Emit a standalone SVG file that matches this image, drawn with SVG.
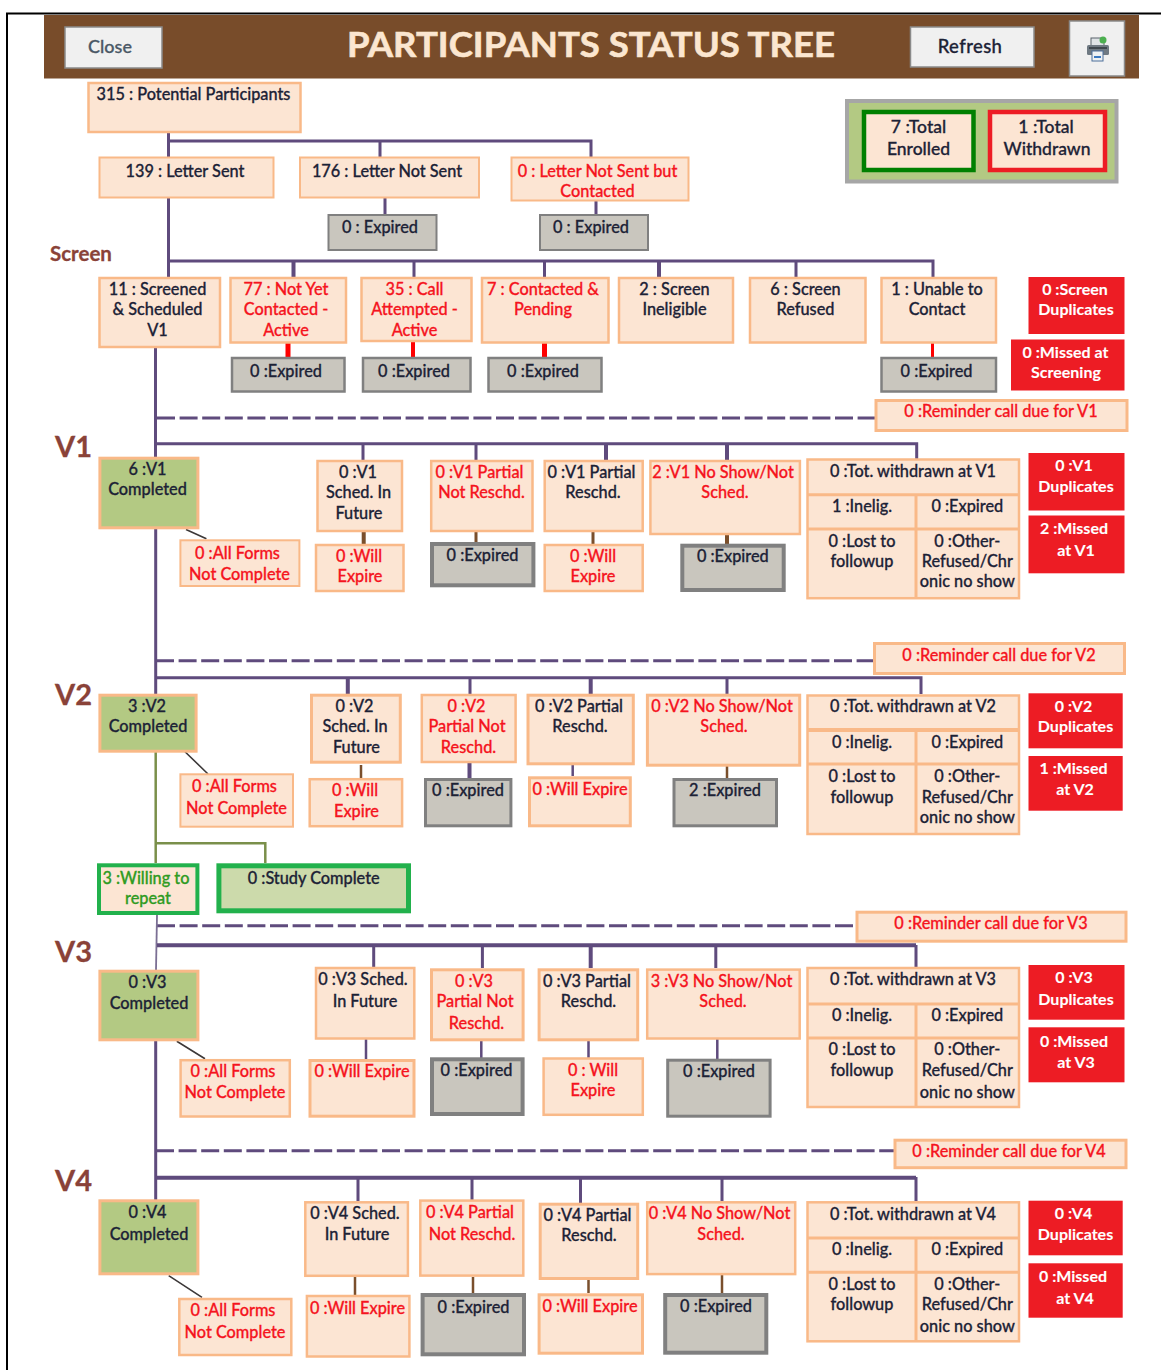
<svg xmlns="http://www.w3.org/2000/svg" width="1161" height="1370" viewBox="0 0 1161 1370">
<style>
text{font-family:Lato,"Liberation Sans",sans-serif;font-size:16.3px;text-anchor:middle;fill:#1c2236;stroke:#1c2236;stroke-width:.3;font-weight:500}
.r text{fill:#f5141e;stroke:#f5141e}
.w text{fill:#fff;stroke:#fff;stroke-width:.1;font-weight:700;font-size:16px}
.g text{fill:#2f9b22;stroke:#2f9b22}
.n{fill:#fce5d3;stroke:#f9b988;stroke-width:2.5}
.x{fill:#c9c6be;stroke:#808080;stroke-width:2.5}
.k{fill:#c9c6be;stroke:#808080;stroke-width:4}
.c{fill:#b3c983;stroke:#f9b988;stroke-width:3}
.d{fill:#ed1c24}
.b{fill:#f0f0f0;stroke:#8a8a8a;stroke-width:1.5}
text.h{font-weight:700;font-size:29px;fill:#8a4238;stroke:#8a4238;text-anchor:start}
.p{fill:none;stroke:#5f4b7d;stroke-width:3}
.pd{fill:none;stroke:#5f4b7d;stroke-width:3;stroke-dasharray:18 4.6}
.br{fill:none;stroke:#7a4f2c;stroke-width:3}
.rd{fill:none;stroke:#ff0000;stroke-width:4}
.ol{fill:none;stroke:#7a8f4a;stroke-width:2.5}
.dg{fill:none;stroke:#3c3838;stroke-width:1.6}
.l{fill:none;stroke:#f9b988;stroke-width:3}
</style>
<path d="M7 1370V13.5H1161" fill="none" stroke="#000" stroke-width="2"/>
<g id="header">
<rect x="44" y="15" width="1095" height="63.5" fill="#784c2a"/>
<text x="591" y="57" style="font-size:35px;font-weight:700;fill:#fbe6d0;stroke:#fbe6d0;stroke-width:.6" textLength="488" lengthAdjust="spacingAndGlyphs">PARTICIPANTS STATUS TREE</text>
</g>
<g id="btn-close"><rect class="b" x="65" y="27" width="97" height="41"/><text x="110" y="53" style="fill:#4a5866;stroke:#4a5866;font-size:18px">Close</text></g>
<g id="btn-refresh"><rect class="b" x="910.500" y="27" width="123.500" height="40"/><text x="970" y="53" style="font-size:18.500px;letter-spacing:.4px">Refresh</text></g>
<g id="btn-print"><rect class="b" x="1069.500" y="21" width="55" height="55"/>
<rect x="1091" y="38" width="13" height="8" fill="#dfe3e6" stroke="#59626a"/><rect x="1087" y="45" width="22" height="10" rx="1.500" fill="#6f7982"/><rect x="1089" y="47" width="18" height="2" fill="#3f474e"/><rect x="1092" y="51" width="11" height="10" fill="#eef1f3" stroke="#4d6f9a"/><rect x="1094" y="56" width="7" height="2" fill="#3a78c0"/><circle cx="1103" cy="40" r="3.500" fill="#4caf50"/></g>

<g id="connectors">
<path class="p" d="M168.500 128V157M168.500 198V278M168.500 141H591V157M380 141V157M385 198V215M596 197V215M168.500 261H933V278M414 261V278M544.500 261V278M796 261V278"/>
<path class="p" style="stroke-width:4" d="M293.500 261V278M659 261V278"/>
<path class="rd" style="stroke-width:5" d="M288 341V357M544.500 341V357"/><path class="rd" d="M413 341V357"/><path class="rd" style="stroke-width:3" d="M932.500 341V357"/>
<path class="p" d="M155.500 348V458M155.700 525V703M155.700 1038V1200"/>
<path class="pd" d="M157 418H875M156 660.700H874M157 925.700H856M156 1150.700H894"/>
<path class="p" d="M155.700 443.700H916.700V460M363 443.700V460M476 443.700V460"/>
<path class="p" style="stroke-width:4" d="M606 443.700V460M727 443.700V460"/>
<path class="br" style="stroke-width:4" d="M363.700 531V544M727 535V544"/><path class="br" d="M476 531V547M593 531V544"/>
<path class="p" d="M155.700 677.700H921V694M470 677.700V694M727 677.700V694"/>
<path class="p" style="stroke-width:4" d="M347.800 677.700V694M590.700 677.700V694M469.500 763V778"/><path class="p" style="stroke-width:2.500" d="M572.700 765V776"/>
<path class="br" style="stroke-width:2.500" d="M361 765V778M727 766V778"/>
<path class="ol" d="M155.700 745V863M155.700 843.300H265.300V863"/>
<path class="p" style="stroke-width:1.800;stroke:#7b6f94" d="M157 915L156 970"/>
<path class="p" style="stroke-width:4" d="M157 945.300H916"/>
<path class="p" d="M373.700 945V968M482.400 945V968M715.800 945V968M916 945V968"/><path class="p" style="stroke-width:4" d="M590.700 945V968"/>
<path class="p" style="stroke-width:2.500" d="M366 1039V1059M481.300 1041V1058M588.500 1041V1058M717.300 1039V1059"/>
<path class="p" style="stroke-width:4" d="M155.700 1177.700H916"/>
<path class="p" d="M358 1177V1201M472 1177V1201M580.500 1177V1203M722 1177V1201M916 1177V1201"/>
<path class="br" style="stroke-width:2.500" d="M355 1277V1295M473 1277V1293M588.500 1280V1293M722 1272V1293"/>
<path class="dg" d="M186 529.500L206.400 538.700M185 751.700L208 774M176.800 1041.300L205 1058.700M168.700 1275.700L202 1297.300"/>
</g>

<g id="legend">
<rect x="847" y="101" width="269.500" height="80.500" fill="#b3c983" stroke="#a6a6a6" stroke-width="4"/>
<g id="total-enrolled"><rect x="864" y="112" width="109.500" height="58" fill="#fce5d3" stroke="#008000" stroke-width="4.500"/><text x="918.500" y="133" style="font-size:17.500px">7 :Total</text><text x="918.500" y="155" style="font-size:17.500px">Enrolled</text></g>
<g id="total-withdrawn"><rect x="990" y="112" width="115" height="58" fill="#fce5d3" stroke="#ed1c24" stroke-width="4.500"/><text x="1046" y="133" style="font-size:17.500px">1 :Total</text><text x="1047" y="155" style="font-size:17.500px">Withdrawn</text></g>
</g>

<text class="h" x="50" y="261" style="font-size:20.500px">Screen</text>
<text class="h" x="55" y="457">V1</text><text class="h" x="55" y="705">V2</text><text class="h" x="55" y="962">V3</text><text class="h" x="55" y="1190.500">V4</text>

<g id="n315"><rect class="n" x="88.500" y="83" width="212" height="49"/><text x="193.500" y="100">315 : Potential Participants</text></g>
<g id="n139"><rect class="n" style="stroke-width:2" x="99.500" y="157.500" width="174" height="40"/><text x="185" y="177">139 : Letter Sent</text></g>
<g id="n176"><rect class="n" style="stroke-width:2" x="300" y="157.500" width="179" height="40"/><text x="387" y="177">176 : Letter Not Sent</text></g>
<g id="n0lns" class="r"><rect class="n" style="stroke-width:2" x="511.500" y="157.500" width="177" height="43"/><text x="597.500" y="177">0 : Letter Not Sent but</text><text x="597.500" y="197">Contacted</text></g>
<g id="exp1"><rect class="x" style="stroke-width:2" x="328.500" y="215" width="108" height="35"/><text x="380" y="233">0 : Expired</text></g>
<g id="exp2"><rect class="x" style="stroke-width:2" x="540" y="215" width="108" height="35"/><text x="591" y="233">0 : Expired</text></g>

<g id="screened"><rect class="n" x="99.500" y="278" width="120.500" height="69"/><text x="157.500" y="295">11 : Screened</text><text x="157.500" y="315">&amp; Scheduled</text><text x="157.500" y="336">V1</text></g>
<g id="notyet" class="r"><rect class="n" x="230.500" y="278" width="115.500" height="64.500"/><text x="286" y="295">77 : Not Yet</text><text x="286" y="315">Contacted -</text><text x="286" y="336">Active</text></g>
<g id="attempted" class="r"><rect class="n" x="361.500" y="278" width="110" height="63"/><text x="414.500" y="295">35 : Call</text><text x="414.500" y="315">Attempted -</text><text x="414.500" y="336">Active</text></g>
<g id="pending" class="r"><rect class="n" x="482" y="278" width="126.500" height="64.500"/><text x="543" y="295">7 : Contacted &amp;</text><text x="543" y="315">Pending</text></g>
<g id="inelig"><rect class="n" x="619" y="278" width="114" height="64.500"/><text x="674.500" y="295">2 : Screen</text><text x="674.500" y="315">Ineligible</text></g>
<g id="refused"><rect class="n" x="750" y="278" width="115.500" height="64.500"/><text x="805.500" y="295">6 : Screen</text><text x="805.500" y="315">Refused</text></g>
<g id="unable"><rect class="n" x="881.500" y="278" width="114.500" height="64.500"/><text x="937" y="295">1 : Unable to</text><text x="937" y="315">Contact</text></g>
<g id="scrdup" class="w"><rect class="d" x="1028.500" y="277" width="96" height="57"/><text x="1075" y="295">0 :Screen</text><text x="1076" y="315">Duplicates</text></g>
<g id="scrmiss" class="w"><rect class="d" x="1011" y="339.500" width="113.500" height="51"/><text x="1065.500" y="358">0 :Missed at</text><text x="1066" y="378">Screening</text></g>
<g id="e3"><rect class="x" x="232" y="358" width="112.500" height="33.500"/><text x="286" y="376.500">0 :Expired</text></g>
<g id="e4"><rect class="x" x="363" y="358" width="107.500" height="33.500"/><text x="414" y="376.500">0 :Expired</text></g>
<g id="e5"><rect class="x" x="488.500" y="358" width="113" height="33.500"/><text x="543" y="376.500">0 :Expired</text></g>
<g id="e6"><rect class="x" x="881.500" y="358" width="114.500" height="33.500"/><text x="936.500" y="376.500">0 :Expired</text></g>
<g id="rem1" class="r"><rect class="n" style="stroke-width:3" x="876" y="400.500" width="251" height="30"/><text x="1001" y="417">0 :Reminder call due for V1</text></g>

<g id="v1c"><rect class="c" x="99.900" y="458.200" width="98" height="69.600"/><text x="147.500" y="474.700">6 :V1</text><text x="147.500" y="495">Completed</text></g>
<g id="v1af" class="r"><rect class="n" style="stroke-width:2" x="180.400" y="540.300" width="119" height="45.700"/><text x="237.500" y="559">0 :All Forms</text><text x="239.500" y="579.500">Not Complete</text></g>
<g id="v1s"><rect class="n" x="317.500" y="461" width="84.500" height="70"/><text x="358" y="477.700">0 :V1</text><text x="358.500" y="498">Sched. In</text><text x="359" y="518.700">Future</text></g>
<g id="v1w" class="r"><rect class="n" x="316" y="545" width="87.500" height="46"/><text x="359" y="562">0 :Will</text><text x="360" y="582">Expire</text></g>
<g id="v1p" class="r"><rect class="n" x="431.200" y="461" width="101.300" height="70"/><text x="479.500" y="477.700">0 :V1 Partial</text><text x="481.500" y="498">Not Reschd.</text></g>
<g id="v1pe"><rect class="k" x="432" y="544" width="101.400" height="41.300"/><text x="482.500" y="560.700">0 :Expired</text></g>
<g id="v1r"><rect class="n" x="544.700" y="461" width="98" height="70"/><text x="591.500" y="477.700">0 :V1 Partial</text><text x="593" y="498">Reschd.</text></g>
<g id="v1rw" class="r"><rect class="n" x="544.700" y="545" width="98" height="46"/><text x="593" y="562">0 :Will</text><text x="593" y="582">Expire</text></g>
<g id="v1n" class="r"><rect class="n" x="650.400" y="461" width="149.500" height="73"/><text x="723" y="477.700">2 :V1 No Show/Not</text><text x="725" y="498">Sched.</text></g>
<g id="v1ne"><rect class="k" x="682.300" y="545.700" width="101.400" height="44.300"/><text x="732.800" y="562">0 :Expired</text></g>
<g id="v1t"><rect class="n" x="807.500" y="459.500" width="211.500" height="138.700"/><path class="l" d="M807 494.700H1019M807 529H1019M916 494.700V598"/><text x="913" y="476.700">0 :Tot. withdrawn at V1</text><text x="862" y="512.300">1 :Inelig.</text><text x="967.300" y="512.300">0 :Expired</text><text x="862" y="546.700">0 :Lost to</text><text x="862" y="567">followup</text><text x="967.300" y="546.700">0 :Other-</text><text x="967.300" y="567">Refused/Chr</text><text x="967.300" y="587.300">onic no show</text></g>
<g id="v1d" class="w"><rect class="d" x="1028.500" y="453" width="96" height="57.500"/><text x="1074" y="471.300">0 :V1</text><text x="1076" y="492">Duplicates</text></g>
<g id="v1m" class="w"><rect class="d" x="1028.500" y="515.500" width="96" height="57.800"/><text x="1074" y="534">2 :Missed</text><text x="1076" y="556">at V1</text></g>

<g id="rem2" class="r"><rect class="n" style="stroke-width:3" x="874.500" y="643.500" width="250" height="30"/><text x="999" y="660.700">0 :Reminder call due for V2</text></g>
<g id="v2c"><rect class="c" x="99.900" y="695.200" width="96.200" height="56"/><text x="147" y="711.700">3 :V2</text><text x="148" y="732">Completed</text></g>
<g id="v2af" class="r"><rect class="n" style="stroke-width:2" x="180.400" y="774.300" width="112.600" height="52.400"/><text x="234.500" y="791.700">0 :All Forms</text><text x="236.500" y="813.700">Not Complete</text></g>
<g id="v2s"><rect class="n" style="stroke-width:3" x="311.500" y="695.200" width="88.800" height="67"/><text x="354.500" y="711.700">0 :V2</text><text x="355" y="732.300">Sched. In</text><text x="356.500" y="752.700">Future</text></g>
<g id="v2w" class="r"><rect class="n" x="309.700" y="779.200" width="92.400" height="47"/><text x="355" y="796.300">0 :Will</text><text x="356.500" y="816.700">Expire</text></g>
<g id="v2p" class="r"><rect class="n" x="421.800" y="695" width="93.800" height="67"/><text x="466.500" y="711.700">0 :V2</text><text x="467" y="732.300">Partial Not</text><text x="468.500" y="752.700">Reschd.</text></g>
<g id="v2pe"><rect class="x" style="stroke-width:3" x="425.500" y="779.500" width="85.400" height="46.300"/><text x="468" y="796.300">0 :Expired</text></g>
<g id="v2r"><rect class="n" style="stroke-width:3" x="528" y="695.200" width="105.300" height="68.600"/><text x="579" y="711.700">0 :V2 Partial</text><text x="580" y="732.300">Reschd.</text></g>
<g id="v2rw" class="r"><rect class="n" style="stroke-width:3" x="529.500" y="777.800" width="100.800" height="48"/><text x="580" y="794.700">0 :Will Expire</text></g>
<g id="v2n" class="r"><rect class="n" style="stroke-width:3" x="647.400" y="695.200" width="152.300" height="70"/><text x="722" y="711.700">0 :V2 No Show/Not</text><text x="724" y="732">Sched.</text></g>
<g id="v2ne"><rect class="x" style="stroke-width:3" x="674" y="779.500" width="102.500" height="46.300"/><text x="725" y="796.300">2 :Expired</text></g>
<g id="v2t"><rect class="n" x="807.500" y="695.500" width="211.500" height="138.500"/><path class="l" style="stroke-width:4" d="M807 730H1019"/><path class="l" d="M807 764H1019M916 730V834"/><text x="913" y="712">0 :Tot. withdrawn at V2</text><text x="862" y="747.700">0 :Inelig.</text><text x="967.300" y="747.700">0 :Expired</text><text x="862" y="782.300">0 :Lost to</text><text x="862" y="802.700">followup</text><text x="967.300" y="782.300">0 :Other-</text><text x="967.300" y="802.700">Refused/Chr</text><text x="967.300" y="823.300">onic no show</text></g>
<g id="v2d" class="w"><rect class="d" x="1028.500" y="693.300" width="94.200" height="55"/><text x="1073.500" y="712">0 :V2</text><text x="1075.500" y="732.300">Duplicates</text></g>
<g id="v2m" class="w"><rect class="d" x="1028.500" y="756" width="94.200" height="54.700"/><text x="1073.500" y="774.300">1 :Missed</text><text x="1075" y="795">at V2</text></g>

<g id="willing" class="g"><rect style="fill:#fce5d3;stroke:#22b14c;stroke-width:4" x="99" y="865.300" width="98.400" height="47.700"/><text x="146" y="884">3 :Willing to</text><text x="148" y="904">repeat</text></g>
<g id="study"><rect style="fill:#ccdaab;stroke:#22b14c;stroke-width:5" x="218.900" y="865.800" width="189.600" height="45"/><text x="313.700" y="884">0 :Study Complete</text></g>

<g id="rem3" class="r"><rect class="n" style="stroke-width:3" x="857" y="912.200" width="269" height="29"/><text x="991" y="929">0 :Reminder call due for V3</text></g>
<g id="v3c"><rect class="c" x="99.900" y="971.200" width="98" height="68.600"/><text x="147.500" y="988">0 :V3</text><text x="149" y="1008.700">Completed</text></g>
<g id="v3af" class="r"><rect class="n" x="180.600" y="1060.200" width="109.200" height="56.300"/><text x="233" y="1077.300">0 :All Forms</text><text x="235" y="1097.700">Not Complete</text></g>
<g id="v3s"><rect class="n" x="316" y="968" width="98.300" height="70.500"/><text x="363" y="985">0 :V3 Sched.</text><text x="365" y="1007">In Future</text></g>
<g id="v3w" class="r"><rect class="n" style="stroke-width:3" x="310" y="1060.500" width="104" height="55.700"/><text x="362" y="1077.300">0 :Will Expire</text></g>
<g id="v3p" class="r"><rect class="n" style="stroke-width:3" x="431.500" y="969.800" width="91.600" height="70"/><text x="474" y="986.700">0 :V3</text><text x="475" y="1007">Partial Not</text><text x="476.500" y="1029">Reschd.</text></g>
<g id="v3pe"><rect class="k" x="432" y="1059.300" width="90.600" height="54.700"/><text x="476.500" y="1075.700">0 :Expired</text></g>
<g id="v3r"><rect class="n" style="stroke-width:3" x="539.100" y="969.800" width="98.600" height="70"/><text x="587" y="986.700">0 :V3 Partial</text><text x="588.500" y="1007">Reschd.</text></g>
<g id="v3rw" class="r"><rect class="n" x="543.600" y="1058.500" width="99.200" height="56.300"/><text x="593" y="1075.700">0 : Will</text><text x="593" y="1096">Expire</text></g>
<g id="v3n" class="r"><rect class="n" x="647.200" y="969.600" width="152.500" height="68.900"/><text x="721.500" y="986.700">3 :V3 No Show/Not</text><text x="723" y="1007">Sched.</text></g>
<g id="v3ne"><rect class="x" style="stroke-width:3" x="667.700" y="1060.200" width="102.400" height="56"/><text x="719" y="1077.300">0 :Expired</text></g>
<g id="v3t"><rect class="n" x="807.500" y="968" width="211.500" height="139"/><path class="l" d="M807 1004H1019M807 1038H1019M916 1004V1107"/><text x="913" y="985.300">0 :Tot. withdrawn at V3</text><text x="862" y="1021">0 :Inelig.</text><text x="967.300" y="1021">0 :Expired</text><text x="862" y="1055.300">0 :Lost to</text><text x="862" y="1076">followup</text><text x="967.300" y="1055.300">0 :Other-</text><text x="967.300" y="1076">Refused/Chr</text><text x="967.300" y="1097.700">onic no show</text></g>
<g id="v3d" class="w"><rect class="d" x="1028.500" y="965" width="96" height="54.700"/><text x="1074" y="983.300">0 :V3</text><text x="1076" y="1005.300">Duplicates</text></g>
<g id="v3m" class="w"><rect class="d" x="1028.500" y="1027.300" width="96" height="55"/><text x="1074" y="1047.300">0 :Missed</text><text x="1076" y="1068">at V3</text></g>

<g id="rem4" class="r"><rect class="n" style="stroke-width:3" x="895" y="1140.200" width="231" height="27.500"/><text x="1009" y="1157">0 :Reminder call due for V4</text></g>
<g id="v4c"><rect class="c" x="99.900" y="1200.800" width="98" height="73"/><text x="147.500" y="1217.700">0 :V4</text><text x="149" y="1239.700">Completed</text></g>
<g id="v4af" class="r"><rect class="n" x="179.300" y="1299" width="112" height="56"/><text x="233" y="1316">0 :All Forms</text><text x="235" y="1338">Not Complete</text></g>
<g id="v4s"><rect class="n" x="305.300" y="1202.300" width="102.600" height="73.500"/><text x="355" y="1219.300">0 :V4 Sched.</text><text x="357" y="1239.700">In Future</text></g>
<g id="v4w" class="r"><rect class="n" x="306.900" y="1296" width="102.500" height="60.500"/><text x="357.500" y="1314.300">0 :Will Expire</text></g>
<g id="v4p" class="r"><rect class="n" x="420.300" y="1200.600" width="103" height="75"/><text x="470" y="1217.700">0 :V4 Partial</text><text x="472" y="1239.700">Not Reschd.</text></g>
<g id="v4pe"><rect class="k" x="422.600" y="1295" width="101.400" height="59.300"/><text x="473.500" y="1312.700">0 :Expired</text></g>
<g id="v4r"><rect class="n" style="stroke-width:3" x="540.200" y="1204.200" width="97.500" height="74.300"/><text x="587.500" y="1220.700">0 :V4 Partial</text><text x="589" y="1241">Reschd.</text></g>
<g id="v4rw" class="r"><rect class="n" style="stroke-width:3" x="539.100" y="1294.800" width="103.400" height="58.400"/><text x="590" y="1311.700">0 :Will Expire</text></g>
<g id="v4n" class="r"><rect class="n" x="647.200" y="1202.300" width="148" height="71.800"/><text x="719.500" y="1219.300">0 :V4 No Show/Not</text><text x="721" y="1239.700">Sched.</text></g>
<g id="v4ne"><rect class="k" x="665.200" y="1295" width="101.100" height="57.700"/><text x="716" y="1311.700">0 :Expired</text></g>
<g id="v4t"><rect class="n" x="807.500" y="1202.300" width="211.500" height="139"/><path class="l" d="M807 1238H1019M807 1272.300H1019M916 1238V1342"/><text x="913" y="1219.700">0 :Tot. withdrawn at V4</text><text x="862" y="1255.300">0 :Inelig.</text><text x="967.300" y="1255.300">0 :Expired</text><text x="862" y="1289.700">0 :Lost to</text><text x="862" y="1310">followup</text><text x="967.300" y="1289.700">0 :Other-</text><text x="967.300" y="1310">Refused/Chr</text><text x="967.300" y="1331.700">onic no show</text></g>
<g id="v4d" class="w"><rect class="d" x="1028.500" y="1200.700" width="94.200" height="54.600"/><text x="1073.500" y="1219">0 :V4</text><text x="1075.500" y="1239.700">Duplicates</text></g>
<g id="v4m" class="w"><rect class="d" x="1028.500" y="1263.300" width="94.200" height="54.400"/><text x="1073" y="1281.700">0 :Missed</text><text x="1075" y="1303.700">at V4</text></g>
</svg>
